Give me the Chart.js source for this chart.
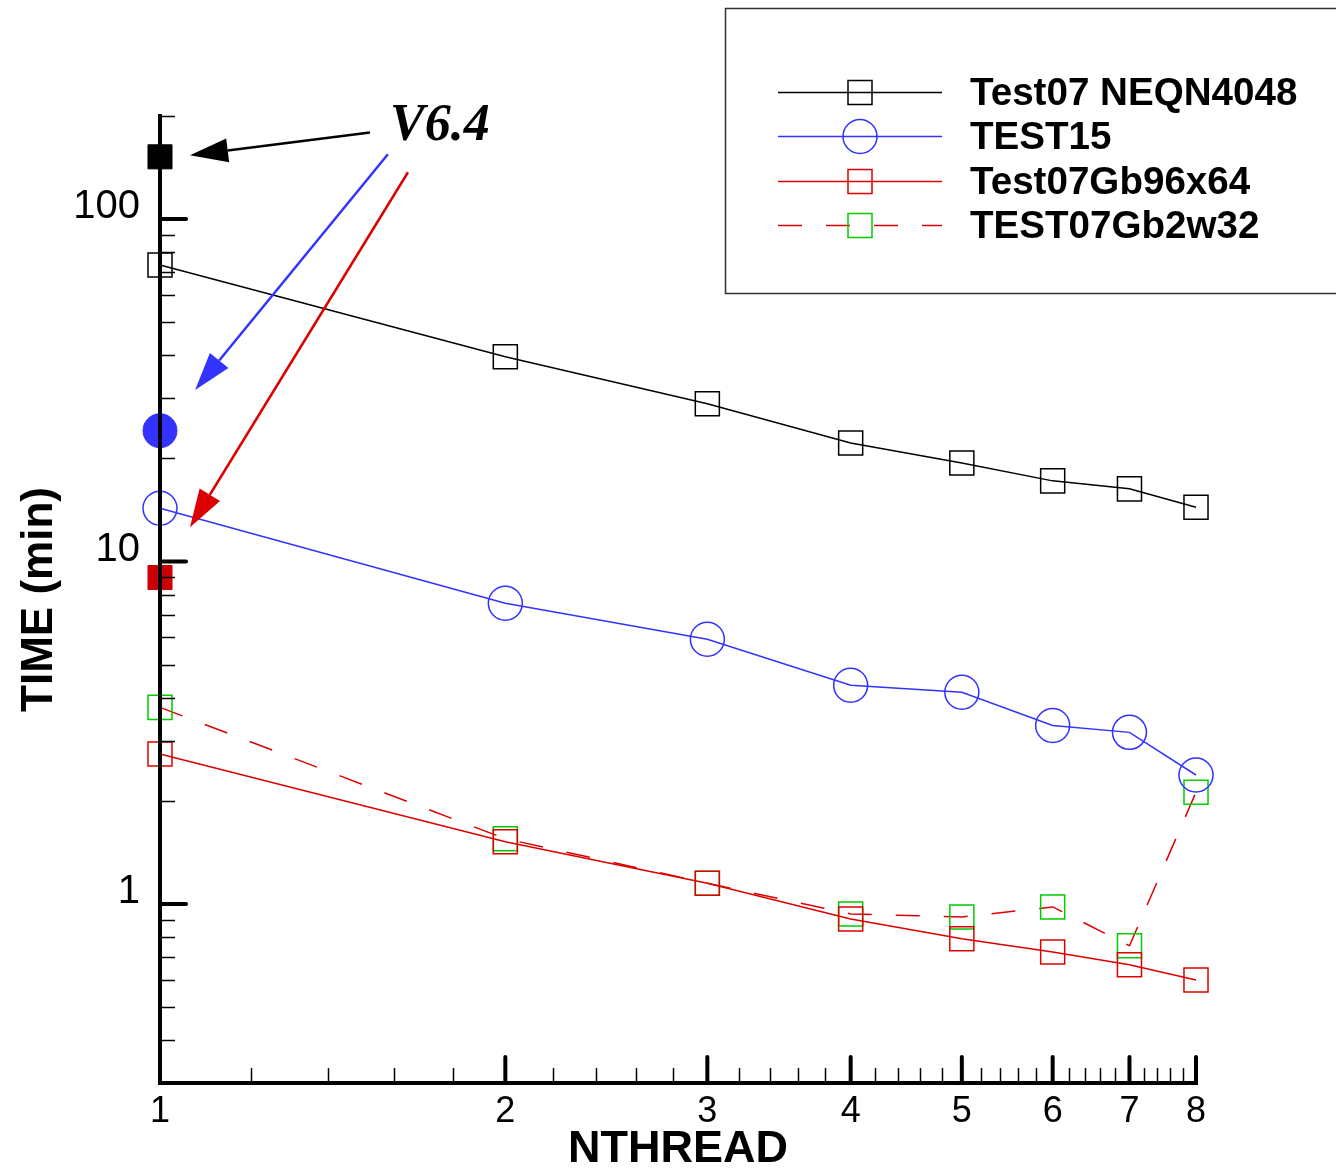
<!DOCTYPE html>
<html lang="en">
<head>
<meta charset="UTF-8">
<title>TIME vs NTHREAD</title>
<style>
  html, body { margin: 0; padding: 0; background: #fff; }
  canvas { display: block; }
</style>
</head>
<body>
<canvas id="myChart" width="1336" height="1172"></canvas>
<script src="https://cdn.jsdelivr.net/npm/chart.js"></script>
<script>
// number of threads (x)
const nthread = [1, 2, 3, 4, 5, 6, 7, 8];
// TIME (min) per series
const test07Neqn4048 = [73.4, 39.6, 28.9, 22.2, 19.4, 17.2, 16.3, 14.4];
const test15 = [14.3, 7.55, 5.93, 4.35, 4.15, 3.32, 3.17, 2.38];
const test07Gb96x64 = [2.74, 1.52, 1.15, 0.904, 0.791, 0.724, 0.664, 0.600];
const test07Gb2w32 = [3.75, 1.55, 1.15, 0.935, 0.916, 0.98, 0.755, 2.12];
// V6.4 runs, all at NTHREAD = 1 (Test07 NEQN4048, TEST15, Test07Gb96x64)
const v64Time = [152, 24.1, 8.98];

const seriesLabels = ['Test07 NEQN4048', 'TEST15', 'Test07Gb96x64', 'TEST07Gb2w32'];
const xTickValues = [1, 2, 3, 4, 5, 6, 7, 8];
const yTickValues = [1, 10, 100];

const BLUE = '#3333ff';
const RED = '#dd0000';
const GREEN = '#00cc00';
const FONT = '"Liberation Sans", Arial, sans-serif';

const toPoints = (ys) => ys.map((y, i) => ({ x: nthread[i], y: y }));

function lineSet(label, data, color, markerColor, style, dash) {
    return {
        label: label,
        data: toPoints(data),
        borderColor: color,
        borderWidth: 1.5,
        borderDash: dash || [],
        pointStyle: style,
        pointRadius: 17,
        pointHoverRadius: 17,
        pointBorderColor: markerColor,
        pointBackgroundColor: 'rgba(0,0,0,0)',
        pointBorderWidth: 1.5,
        tension: 0,
        clip: false
    };
}

const datasets = [
    lineSet(seriesLabels[0], test07Neqn4048, '#000', '#000', 'rect'),
    lineSet(seriesLabels[1], test15, BLUE, BLUE, 'circle'),
    lineSet(seriesLabels[2], test07Gb96x64, RED, RED, 'rect'),
    lineSet(seriesLabels[3], test07Gb2w32, RED, GREEN, 'rect', [24, 24]),
    {
        label: 'V6.4',
        data: v64Time.map(y => ({ x: 1, y: y })),
        showLine: false,
        pointStyle: ['rect', 'circle', 'rect'],
        pointRadius: 17,
        pointBackgroundColor: ['#000', BLUE, '#cc0000'],
        pointBorderColor: ['#000', BLUE, '#cc0000'],
        pointBorderWidth: 1,
        clip: false
    }
];

// axis lines + inward ticks, drawn over the markers like the original
const axesPlugin = {
    id: 'axesPlugin',
    afterDatasetsDraw(chart) {
        const { ctx, chartArea: a, scales: { x, y } } = chart;
        ctx.save();
        ctx.strokeStyle = '#000';
        ctx.lineCap = 'butt';
        // minor ticks
        ctx.lineWidth = 1.5;
        for (let d = 1; d < 8; d++) {
            for (let m = 1; m <= 4; m++) {
                const px = Math.round(x.getPixelForValue(d + m * 0.2)) + 0.5;
                ctx.beginPath(); ctx.moveTo(px, a.bottom); ctx.lineTo(px, a.bottom - 15); ctx.stroke();
            }
        }
        [0.1, 1, 10, 100].forEach(dec => {
            for (let m = 2; m <= 9; m++) {
                const v = dec * m;
                if (v < 0.3 - 1e-9 || v > 200 + 1e-9) continue;
                const py = Math.round(y.getPixelForValue(v)) + 0.5;
                ctx.beginPath(); ctx.moveTo(a.left, py); ctx.lineTo(a.left + 15, py); ctx.stroke();
            }
        });
        // major ticks
        ctx.lineWidth = 4;
        ctx.lineCap = 'round';
        xTickValues.forEach(v => {
            const px = x.getPixelForValue(v);
            ctx.beginPath(); ctx.moveTo(px, a.bottom); ctx.lineTo(px, a.bottom - 26); ctx.stroke();
        });
        yTickValues.forEach(v => {
            const py = y.getPixelForValue(v);
            ctx.beginPath(); ctx.moveTo(a.left, py); ctx.lineTo(a.left + 26, py); ctx.stroke();
        });
        // axis lines
        ctx.lineCap = 'square';
        ctx.beginPath();
        ctx.moveTo(a.left, a.top);
        ctx.lineTo(a.left, a.bottom);
        ctx.lineTo(a.right, a.bottom);
        ctx.stroke();
        ctx.restore();
    }
};

function drawArrow(ctx, x1, y1, x2, y2, color) {
    const ang = Math.atan2(y2 - y1, x2 - x1);
    const hl = 38, hw = 12;
    const bx = x2 - hl * Math.cos(ang), by = y2 - hl * Math.sin(ang);
    ctx.strokeStyle = color;
    ctx.fillStyle = color;
    ctx.lineWidth = 2.5;
    ctx.beginPath(); ctx.moveTo(x1, y1); ctx.lineTo(bx, by); ctx.stroke();
    ctx.beginPath();
    ctx.moveTo(x2, y2);
    ctx.lineTo(bx + hw * Math.sin(ang), by - hw * Math.cos(ang));
    ctx.lineTo(bx - hw * Math.sin(ang), by + hw * Math.cos(ang));
    ctx.closePath();
    ctx.fill();
}

// V6.4 note with arrows (in data units) and the boxed legend
const notesPlugin = {
    id: 'notesPlugin',
    afterDraw(chart) {
        const { ctx, scales: { x, y } } = chart;
        const px = (v) => x.getPixelForValue(v);
        const py = (v) => y.getPixelForValue(v);
        ctx.save();

        ctx.font = 'bold italic 52px "Liberation Serif", "Times New Roman", serif';
        ctx.fillStyle = '#000';
        ctx.textAlign = 'center';
        ctx.textBaseline = 'middle';
        ctx.fillText('V6.4', px(1.754), py(189) + 2);

        drawArrow(ctx, px(1.524), py(179), px(1.062), py(153.7), '#000');
        drawArrow(ctx, px(1.58), py(154.7), px(1.073), py(31.7), BLUE);
        drawArrow(ctx, px(1.645), py(137), px(1.062), py(12.6), RED);

        // legend box
        ctx.strokeStyle = '#333';
        ctx.lineWidth = 1.5;
        ctx.strokeRect(725.5, 8.5, 700, 285);

        const rows = [92, 136, 181, 225];
        ctx.textAlign = 'left';
        ctx.font = 'bold 38.6px ' + FONT;
        for (let i = 0; i < 4; i++) {
            const ds = chart.data.datasets[i];
            const ry = rows[i] + 0.5;
            ctx.strokeStyle = ds.borderColor;
            ctx.lineWidth = 1.5;
            ctx.setLineDash(ds.borderDash);
            ctx.lineDashOffset = 0;
            ctx.beginPath(); ctx.moveTo(778, ry); ctx.lineTo(942, ry); ctx.stroke();
            ctx.setLineDash([]);
            ctx.strokeStyle = ds.pointBorderColor;
            ctx.beginPath();
            if (ds.pointStyle === 'circle') ctx.arc(860, ry, 17, 0, Math.PI * 2);
            else ctx.rect(848, ry - 12, 24, 24);
            ctx.stroke();
            ctx.fillStyle = '#000';
            ctx.fillText(ds.label, 970, rows[i] + 2);
        }
        ctx.restore();
    }
};

const ctx = document.getElementById('myChart').getContext('2d');
const chart = new Chart(ctx, {
    type: 'line',
    data: { datasets: datasets },
    options: {
        responsive: false,
        animation: false,
        events: [],
        layout: { padding: { top: 116, right: 140, left: 0, bottom: 0 } },
        plugins: { legend: { display: false }, tooltip: { enabled: false } },
        scales: {
            x: {
                type: 'logarithmic',
                min: 1,
                max: 8,
                afterBuildTicks: (s) => { s.ticks = xTickValues.map(v => ({ value: v })); },
                afterFit: (s) => { s.height = 89; },
                grid: { display: false, drawTicks: false },
                border: { display: false },
                ticks: {
                    autoSkip: false,
                    maxRotation: 0,
                    padding: 7,
                    color: '#000',
                    font: { family: FONT, size: 36 },
                    callback: (v) => String(v)
                },
                title: {
                    display: true,
                    text: 'NTHREAD',
                    color: '#000',
                    font: { family: FONT, size: 45, weight: 'bold', lineHeight: 1 },
                    padding: { top: 0, bottom: 0 }
                }
            },
            y: {
                type: 'logarithmic',
                min: 0.3,
                max: 200,
                afterBuildTicks: (s) => { s.ticks = yTickValues.map(v => ({ value: v })); },
                afterFit: (s) => { s.width = 160; },
                grid: { display: false, drawTicks: false },
                border: { display: false },
                ticks: {
                    autoSkip: false,
                    padding: 20,
                    labelOffset: -12,
                    color: '#000',
                    font: { family: FONT, size: 40 },
                    callback: (v) => String(v)
                },
                title: {
                    display: true,
                    text: 'TIME (min)',
                    color: '#000',
                    font: { family: FONT, size: 44, weight: 'bold', lineHeight: 1 },
                    padding: { top: 18, bottom: 0 }
                }
            }
        }
    },
    plugins: [axesPlugin, notesPlugin]
});
</script>
</body>
</html>
